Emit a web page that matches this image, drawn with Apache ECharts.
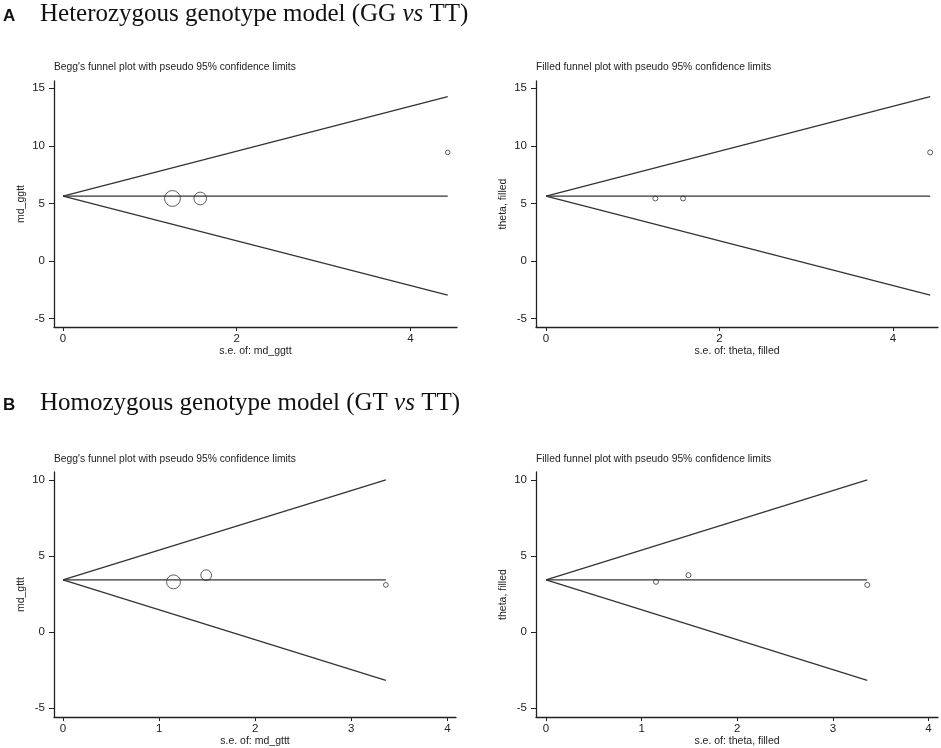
<!DOCTYPE html>
<html>
<head>
<meta charset="utf-8">
<script src="https://cdn.jsdelivr.net/npm/echarts@6/dist/echarts.min.js"></script>
<style>
  html, body { margin: 0; padding: 0; background: #fff; }
  #chart { width: 941px; height: 748px; }
</style>
</head>
<body>
<div id="chart"></div>
<script>
// panel A (GG vs TT)
var seA = [1.26, 1.58, 4.43];
var mdA = [5.43, 5.43, 9.43];
var limitSeA = [0, 4.43];
var pooledA = [5.63, 5.63];
var upperA = [5.63, 14.27];
var lowerA = [5.63, -2.97];

// panel B (GT vs TT)
var seB = [1.15, 1.49, 3.36];
var mdB = [3.30, 3.74, 3.10];
var limitSeB = [0, 3.36];
var pooledB = [3.43, 3.43];
var upperB = [3.43, 10.0];
var lowerB = [3.43, -3.18];

var ticksXA = [0, 2, 4];
var ticksYA = [-5, 0, 5, 10, 15];
var ticksXB = [0, 1, 2, 3, 4];
var ticksYB = [-5, 0, 5, 10];

var panelTitles = [
    "Begg's funnel plot with pseudo 95% confidence limits",
    'Filled funnel plot with pseudo 95% confidence limits',
    "Begg's funnel plot with pseudo 95% confidence limits",
    'Filled funnel plot with pseudo 95% confidence limits'
];
var yNames = ['md_ggtt', 'theta, filled', 'md_gttt', 'theta, filled'];
var xNames = ['s.e. of: md_ggtt', 's.e. of: theta, filled', 's.e. of: md_gttt', 's.e. of: theta, filled'];

var chart = echarts.init(document.getElementById('chart'));
var FONT = '"Liberation Sans", Arial, sans-serif';
var SERIF = '"Liberation Serif", "Times New Roman", serif';
var INK = '#222';

function pairs(xs, ys) {
    return xs.map(function (x, i) { return [x, ys[i]]; });
}

function xAxisFor(i, min, max, ticks) {
    return {
        type: 'value', gridIndex: i, min: min, max: max,
        name: xNames[i], nameLocation: 'middle', nameGap: 17,
        nameTextStyle: { fontFamily: FONT, fontSize: 10.5, color: INK },
        splitLine: { show: false },
        axisLine: { onZero: false, lineStyle: { color: INK, width: 1.3 } },
        axisTick: { customValues: ticks, length: 4, lineStyle: { color: INK } },
        axisLabel: { customValues: ticks, margin: 6, fontFamily: FONT, fontSize: 11.5, color: INK }
    };
}

function yAxisFor(i, min, max, ticks) {
    return {
        type: 'value', gridIndex: i, min: min, max: max,
        name: yNames[i], nameLocation: 'middle', nameGap: 27,
        nameTextStyle: { fontFamily: FONT, fontSize: 10.5, color: INK },
        splitLine: { show: false },
        axisLine: { show: true, onZero: false, lineStyle: { color: INK, width: 1.3 } },
        axisTick: { show: true, customValues: ticks, length: 5, lineStyle: { color: INK } },
        axisLabel: { customValues: ticks, margin: 9, fontFamily: FONT, fontSize: 11.5, color: INK }
    };
}

function lineSeries(i, xs, ys) {
    return {
        type: 'line', xAxisIndex: i, yAxisIndex: i,
        data: pairs(xs, ys), symbol: 'none', silent: true,
        lineStyle: { color: '#333', width: 1.3 }
    };
}

function funnelSeries(i, se, md, limitSe, pooled, upper, lower, scaled) {
    return [
        lineSeries(i, limitSe, pooled),
        lineSeries(i, limitSe, upper),
        lineSeries(i, limitSe, lower),
        {
            type: 'scatter', xAxisIndex: i, yAxisIndex: i, z: 5,
            data: pairs(se, md),
            symbol: 'circle',
            symbolSize: function (v) { return scaled ? scaled / v[0] : 5; },
            itemStyle: { color: 'rgba(0,0,0,0)', borderColor: '#333', borderWidth: 1 }
        }
    ];
}

function panelTitle(i, left, top) {
    return {
        text: panelTitles[i], left: left, top: top, padding: 0,
        textStyle: { fontFamily: FONT, fontSize: 10.3, fontWeight: 'normal', color: INK }
    };
}

function header(letter, a, b, top) {
    return [
        { text: letter, left: 3, top: top + 6, padding: 0,
          textStyle: { fontFamily: FONT, fontSize: 17, fontWeight: 'bold', color: '#111' } },
        { text: '{n|' + a + '}{i|vs}{n|' + b + '}', left: 40, top: top, padding: 0,
          textStyle: { fontWeight: 'normal', rich: {
              n: { fontFamily: SERIF, fontSize: 25, fontWeight: 'normal', color: '#111' },
              i: { fontFamily: SERIF, fontSize: 25, fontWeight: 'normal', fontStyle: 'italic', color: '#111' }
          } } }
    ];
}

var option = {
    animation: false,
    backgroundColor: '#fff',
    title: [].concat(
        header('A', 'Heterozygous genotype model (GG ', ' TT)', 2),
        header('B', 'Homozygous genotype model (GT ', ' TT)', 391),
        [panelTitle(0, 54, 62), panelTitle(1, 536, 62), panelTitle(2, 54, 454), panelTitle(3, 536, 454)]
    ),
    grid: [
        { left: 54, top: 81, width: 403, height: 246 },
        { left: 536, top: 81, width: 402, height: 246 },
        { left: 54, top: 472, width: 402, height: 246 },
        { left: 536, top: 472, width: 402, height: 246 }
    ],
    xAxis: [
        xAxisFor(0, -0.104, 4.537, ticksXA),
        xAxisFor(1, -0.116, 4.52, ticksXA),
        xAxisFor(2, -0.094, 4.09, ticksXB),
        xAxisFor(3, -0.105, 4.1, ticksXB)
    ],
    yAxis: [
        yAxisFor(0, -5.73, 15.63, ticksYA),
        yAxisFor(1, -5.73, 15.63, ticksYA),
        yAxisFor(2, -5.59, 10.52, ticksYB),
        yAxisFor(3, -5.59, 10.52, ticksYB)
    ],
    series: [].concat(
        funnelSeries(0, seA, mdA, limitSeA, pooledA, upperA, lowerA, 20),
        funnelSeries(1, seA, mdA, limitSeA, pooledA, upperA, lowerA, 0),
        funnelSeries(2, seB, mdB, limitSeB, pooledB, upperB, lowerB, 16),
        funnelSeries(3, seB, mdB, limitSeB, pooledB, upperB, lowerB, 0)
    )
};

chart.setOption(option);
</script>
</body>
</html>
